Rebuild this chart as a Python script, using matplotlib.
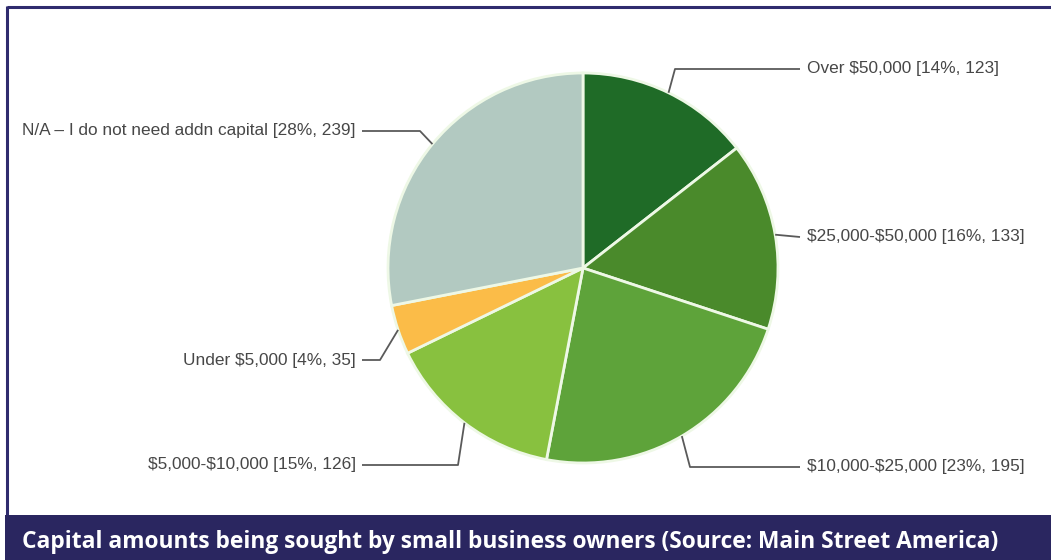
import numpy as np
import matplotlib
matplotlib.use("Agg")
import matplotlib.pyplot as plt
from matplotlib.patches import Rectangle

# Survey responses: capital amounts sought by small business owners
categories = [
    "Over $50,000",
    "$25,000-$50,000",
    "$10,000-$25,000",
    "$5,000-$10,000",
    "Under $5,000",
    "N/A \u2013 I do not need addn capital",
]
counts = [123, 133, 195, 126, 35, 239]
percents = [14, 16, 23, 15, 4, 28]
colors = ["#1f6b27", "#4a8a2b", "#5ea33a", "#88c13f", "#fbbc48", "#b2c9c1"]

title = "Capital amounts being sought by small business owners (Source: Main Street America)"

W, H = 1051, 560
fig = plt.figure(figsize=(W / 100, H / 100), dpi=100)
ax = fig.add_axes([0, 0, 1, 1])


def Y(yp):
    """Convert a top-down pixel row into data y."""
    return H - yp


cx, cy, r = 583, 268, 195
wedges, _ = ax.pie(
    counts, colors=colors, startangle=90, counterclock=False,
    center=(cx, Y(cy)), radius=r, frame=True,
    wedgeprops=dict(edgecolor="#eef8e6", linewidth=2.0),
)
ax.set_xlim(0, W)
ax.set_ylim(0, H)
ax.set_aspect("equal")
ax.axis("off")

# Label layout: (label row, elbow x, side)
layout = [
    (69, 675, "right"),
    (237, None, "right"),
    (467, 690, "right"),
    (465, 458, "left"),
    (360, 380, "left"),
    (131, 420, "left"),
]

line_col = "#5a5a5a"
text_col = "#474747"
for w, cat, n, p, (ly, ex, side) in zip(wedges, categories, counts, percents, layout):
    ang = np.deg2rad((w.theta1 + w.theta2) / 2)
    ax_x = cx + r * np.cos(ang)
    ax_y = Y(cy) + r * np.sin(ang)
    label = f"{cat} [{p}%, {n}]"
    if side == "right":
        end_x = 800
        tx, ha = 807, "left"
    else:
        end_x = 362
        tx, ha = 356, "right"
    if ex is None:
        xs = [ax_x, end_x]
        ys = [ax_y, Y(ly)]
    else:
        xs = [ax_x, ex, end_x]
        ys = [ax_y, Y(ly), Y(ly)]
    ax.plot(xs, ys, color=line_col, lw=1.3, solid_capstyle="butt", zorder=1)
    ax.text(tx, Y(ly), label, ha=ha, va="center", fontsize=12.4,
            family="Liberation Sans", color=text_col, parse_math=False)

# Frame and caption banner
frame_col = "#2f2b6e"
ax.plot([7, W], [Y(7), Y(7)], color=frame_col, lw=2.2, solid_capstyle="butt")
ax.plot([7, 7], [Y(6), Y(515)], color=frame_col, lw=2.2, solid_capstyle="butt")
ax.add_patch(Rectangle((5, 0), W - 5, Y(515), facecolor="#2a2660",
                       edgecolor="none", zorder=3))
ax.text(22, Y(542), title, ha="left", va="center", fontsize=16.4,
        fontweight="bold", family="Open Sans", color="white", zorder=4)

fig.savefig("out.png", dpi=100)
